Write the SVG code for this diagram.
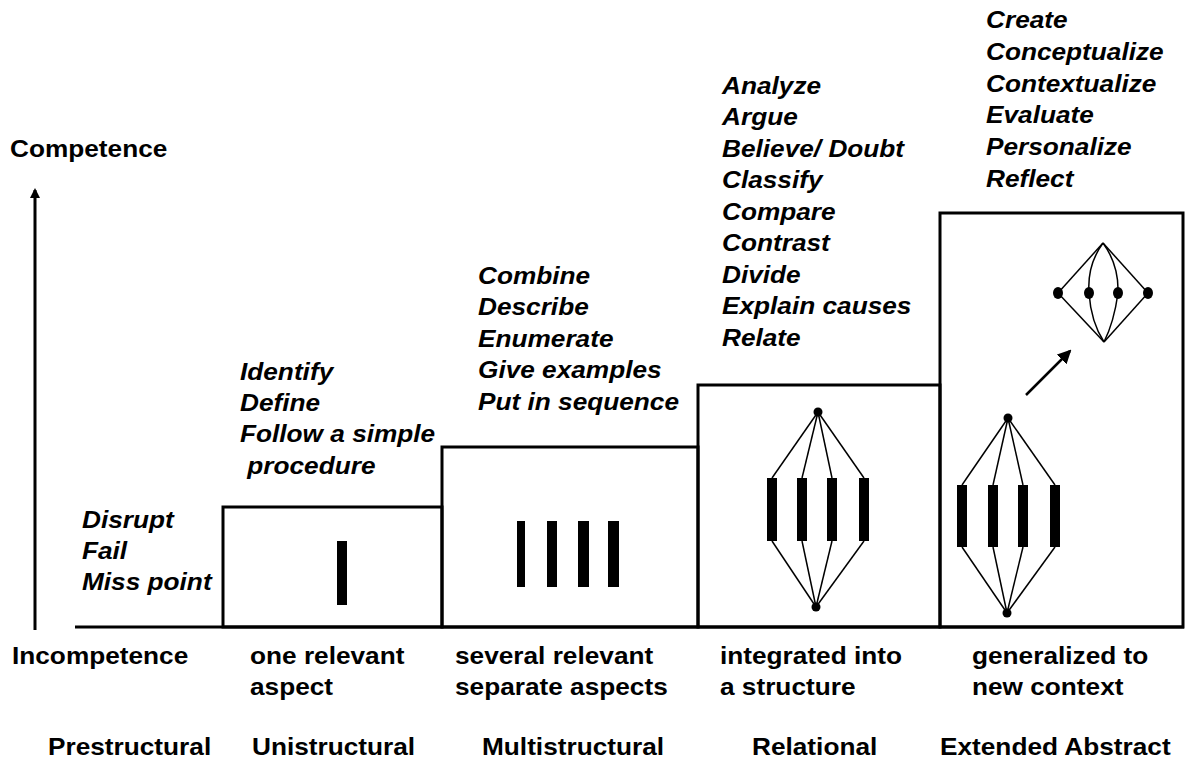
<svg xmlns="http://www.w3.org/2000/svg" width="1188" height="764" viewBox="0 0 1188 764">
<defs>
<style>
.lbl{font-family:"Liberation Sans",Arial,sans-serif;font-weight:bold;font-size:23px;fill:#000}
.it{font-family:"Liberation Sans",Arial,sans-serif;font-weight:bold;font-style:italic;font-size:23px;fill:#000}
.box{fill:none;stroke:#000;stroke-width:3}
.bar{fill:#000}
.thin{stroke:#000;stroke-width:1.5;fill:none}
.axis{stroke:#000;stroke-width:3;fill:none}
</style>
<marker id="ah" markerWidth="10" markerHeight="10" refX="8" refY="5" orient="auto" markerUnits="userSpaceOnUse">
<path d="M0,0 L10,5 L0,10 Z" fill="#000"/>
</marker>
<marker id="ah2" markerWidth="14" markerHeight="14" refX="12" refY="7" orient="auto" markerUnits="userSpaceOnUse">
<path d="M0,0 L14,7 L0,14 Z" fill="#000"/>
</marker>
</defs>
<rect width="1188" height="764" fill="#fff"/>

<g id="connectors">
<line class="axis" x1="35" y1="630" x2="35" y2="190" marker-end="url(#ah)"/>
<line class="axis" x1="75" y1="627" x2="1184" y2="627"/>
</g>

<g id="axis-labels">
<text class="lbl" transform="translate(10,157) scale(1.14,1)">Competence</text>
<text class="lbl" transform="translate(12,664) scale(1.14,1)">Incompetence</text>
</g>

<g id="prestructural">
<text class="it" transform="translate(82,528) scale(1.14,1)"><tspan x="0" y="0">Disrupt</tspan><tspan x="0" y="31.2">Fail</tspan><tspan x="0" y="62.4">Miss point</tspan></text>
<text class="lbl" transform="translate(48,755) scale(1.14,1)">Prestructural</text>
</g>

<g id="unistructural">
<rect class="box" x="223" y="507" width="219" height="120"/>
<rect class="bar" x="337" y="541" width="10" height="64"/>
<text class="it" transform="translate(240,380) scale(1.14,1)"><tspan x="0" y="0">Identify</tspan><tspan x="0" y="31.2">Define</tspan><tspan x="0" y="62.4">Follow a simple</tspan><tspan x="0" y="93.6"> procedure</tspan></text>
<text class="lbl" transform="translate(250,664) scale(1.14,1)"><tspan x="0" y="0">one relevant</tspan><tspan x="0" y="31">aspect</tspan></text>
<text class="lbl" transform="translate(252,755) scale(1.14,1)">Unistructural</text>
</g>

<g id="multistructural">
<rect class="box" x="442" y="447" width="256" height="180"/>
<rect class="bar" x="517" y="521" width="8" height="66"/>
<rect class="bar" x="547" y="521" width="10" height="66"/>
<rect class="bar" x="578" y="521" width="11" height="66"/>
<rect class="bar" x="608" y="521" width="11" height="66"/>
<text class="it" transform="translate(478,284) scale(1.14,1)"><tspan x="0" y="0">Combine</tspan><tspan x="0" y="31.5">Describe</tspan><tspan x="0" y="63">Enumerate</tspan><tspan x="0" y="94.5">Give examples</tspan><tspan x="0" y="126">Put in sequence</tspan></text>
<text class="lbl" transform="translate(455,664) scale(1.14,1)"><tspan x="0" y="0">several relevant</tspan><tspan x="0" y="31">separate aspects</tspan></text>
<text class="lbl" transform="translate(482,755) scale(1.14,1)">Multistructural</text>
</g>

<g id="relational">
<rect class="box" x="698" y="385" width="242" height="242"/>
<g class="thin">
<line x1="818" y1="412" x2="772" y2="478"/>
<line x1="818" y1="412" x2="802" y2="478"/>
<line x1="818" y1="412" x2="832" y2="478"/>
<line x1="818" y1="412" x2="864" y2="478"/>
<line x1="772" y1="541" x2="816" y2="607"/>
<line x1="802" y1="541" x2="816" y2="607"/>
<line x1="832" y1="541" x2="816" y2="607"/>
<line x1="864" y1="541" x2="816" y2="607"/>
</g>
<circle cx="818" cy="412" r="4.5"/>
<circle cx="816" cy="607" r="4.5"/>
<rect class="bar" x="767" y="478" width="10" height="63"/>
<rect class="bar" x="797" y="478" width="10" height="63"/>
<rect class="bar" x="827" y="478" width="10" height="63"/>
<rect class="bar" x="859" y="478" width="10" height="63"/>
<text class="it" transform="translate(722,94) scale(1.14,1)"><tspan x="0" y="0">Analyze</tspan><tspan x="0" y="31.5">Argue</tspan><tspan x="0" y="63">Believe/ Doubt</tspan><tspan x="0" y="94.5">Classify</tspan><tspan x="0" y="126">Compare</tspan><tspan x="0" y="157.5">Contrast</tspan><tspan x="0" y="189">Divide</tspan><tspan x="0" y="220.5">Explain causes</tspan><tspan x="0" y="252">Relate</tspan></text>
<text class="lbl" transform="translate(720,664) scale(1.14,1)"><tspan x="0" y="0">integrated into</tspan><tspan x="0" y="31">a structure</tspan></text>
<text class="lbl" transform="translate(752,755) scale(1.14,1)">Relational</text>
</g>

<g id="extended-abstract">
<rect class="box" x="940" y="213" width="243" height="414"/>
<g class="thin">
<line x1="1008" y1="418" x2="962" y2="485"/>
<line x1="1008" y1="418" x2="993" y2="485"/>
<line x1="1008" y1="418" x2="1023" y2="485"/>
<line x1="1008" y1="418" x2="1055" y2="485"/>
<line x1="962" y1="547" x2="1007" y2="613"/>
<line x1="993" y1="547" x2="1007" y2="613"/>
<line x1="1023" y1="547" x2="1007" y2="613"/>
<line x1="1055" y1="547" x2="1007" y2="613"/>
<line x1="1103" y1="243" x2="1058" y2="293"/>
<path d="M1103,243 Q1087,265 1089,293"/>
<path d="M1103,243 Q1119,265 1118,293"/>
<line x1="1103" y1="243" x2="1148" y2="293"/>
<line x1="1058" y1="293" x2="1104" y2="342"/>
<path d="M1089,293 Q1091,322 1104,342"/>
<path d="M1118,293 Q1114,322 1104,342"/>
<line x1="1148" y1="293" x2="1104" y2="342"/>
</g>
<circle cx="1008" cy="418" r="4.5"/>
<circle cx="1007" cy="613" r="4.5"/>
<rect class="bar" x="957" y="485" width="10" height="62"/>
<rect class="bar" x="988" y="485" width="10" height="62"/>
<rect class="bar" x="1018" y="485" width="10" height="62"/>
<rect class="bar" x="1050" y="485" width="10" height="62"/>
<ellipse cx="1058" cy="293" rx="5" ry="6"/>
<ellipse cx="1089" cy="293" rx="5" ry="6"/>
<ellipse cx="1118" cy="293" rx="5" ry="6"/>
<ellipse cx="1148" cy="293" rx="5" ry="6"/>
<line x1="1026" y1="395" x2="1070" y2="351" stroke="#000" stroke-width="2.5" marker-end="url(#ah2)"/>
<text class="it" transform="translate(986,28) scale(1.14,1)"><tspan x="0" y="0">Create</tspan><tspan x="0" y="31.8">Conceptualize</tspan><tspan x="0" y="63.6">Contextualize</tspan><tspan x="0" y="95.4">Evaluate</tspan><tspan x="0" y="127.2">Personalize</tspan><tspan x="0" y="159">Reflect</tspan></text>
<text class="lbl" transform="translate(972,664) scale(1.14,1)"><tspan x="0" y="0">generalized to</tspan><tspan x="0" y="31">new context</tspan></text>
<text class="lbl" transform="translate(940,755) scale(1.14,1)">Extended Abstract</text>
</g>
</svg>
